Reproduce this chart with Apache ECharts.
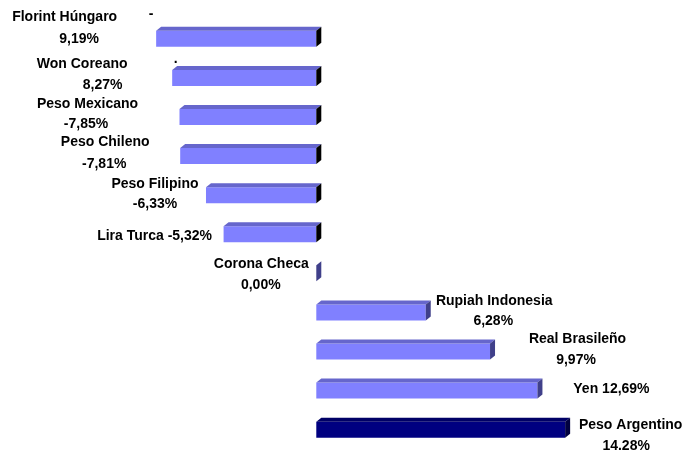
<!DOCTYPE html>
<html>
<head>
<meta charset="utf-8">
<script src="https://cdn.jsdelivr.net/npm/echarts@6/dist/echarts.min.js"></script>
<style>html,body{margin:0;padding:0;background:#fff;}#c{width:688px;height:451px;}</style>
</head>
<body>
<div id="c"></div>
<script>
// ---- data ----
const categories = ['Florint Húngaro', 'Won Coreano', 'Peso Mexicano', 'Peso Chileno', 'Peso Filipino', 'Lira Turca', 'Corona Checa', 'Rupiah Indonesia', 'Real Brasileño', 'Yen', 'Peso Argentino'];
const values = [-9.19, -8.27, -7.85, -7.81, -6.33, -5.32, 0.00, 6.28, 9.97, 12.69, 14.28];
const valueLabels = ['9,19%', '8,27%', '-7,85%', '-7,81%', '-6,33%', '-5,32%', '0,00%', '6,28%', '9,97%', '12,69%', '14.28%'];
const extraMarks = ['-', '.', '', '', '', '', '', '', '', '', ''];
const highlight = 'Peso Argentino';

// ---- layout (label offsets relative to bar end / row centre) ----
const labelLayout = [
  [-91.5, -21.3, -77, 0.7],
  [-90, -13.4, -69.5, 7.6],
  [-92, -13, -93.5, 7],
  [-75, -14.1, -76, 7.9],
  [-51, -11.2, -51, 8.8],
  [-69, 1.7, null, null],
  [-55, -9.3, -55.5, 11.7],
  [68.5, -11.4, 67.5, 8.6],
  [87.5, -12.5, 86, 8.5],
  [74, -1.6, null, null],
  [65.5, -4.7, 61, 16.3]
];
const extraLayout = [[-5, -25], [3.5, -19]];

const FONT = 'bold 14px "Liberation Sans", Arial, sans-serif';
const chart = echarts.init(document.getElementById('c'));

function renderItem(params, api) {
  const idx = api.value(1);
  const val = api.value(0);
  const p0 = api.coord([0, idx]);
  const p1 = api.coord([val, idx]);
  const h = 16, dx = 5, dy = 4;
  const xl = Math.min(p0[0], p1[0]);
  const xr = Math.max(p0[0], p1[0]);
  const yc = p0[1];
  const yt = yc - h / 2, yb = yc + h / 2;
  const isHi = categories[idx] === highlight;
  const front = isHi ? '#000080' : '#8080FF';
  const top = isHi ? '#000066' : '#6666CC';
  const side = isHi ? '#00003F' : (val < 0 ? '#000000' : '#40408A');
  const children = [];
  if (xr - xl > 0) {
    children.push({ type: 'rect', shape: { x: xl, y: yt, width: xr - xl, height: h }, style: { fill: front } });
    children.push({ type: 'polygon', shape: { points: [[xl, yt], [xl + dx, yt - dy], [xr + dx, yt - dy], [xr, yt]] }, style: { fill: top } });
  }
  children.push({ type: 'polygon', shape: { points: [[xr, yt], [xr + dx, yt - dy], [xr + dx, yb - dy], [xr, yb]] }, style: { fill: side } });

  const L = labelLayout[idx];
  const ex = p1[0];
  if (L[2] === null) {
    children.push({ type: 'text', style: { text: categories[idx] + ' ' + valueLabels[idx], x: ex + L[0], y: yc + L[1], align: 'center', verticalAlign: 'middle', font: FONT, fill: '#000' } });
  } else {
    children.push({ type: 'text', style: { text: categories[idx], x: ex + L[0], y: yc + L[1], align: 'center', verticalAlign: 'middle', font: FONT, fill: '#000' } });
    children.push({ type: 'text', style: { text: valueLabels[idx], x: ex + L[2], y: yc + L[3], align: 'center', verticalAlign: 'middle', font: FONT, fill: '#000' } });
  }
  if (extraMarks[idx]) {
    const E = extraLayout[idx];
    children.push({ type: 'text', style: { text: extraMarks[idx], x: ex + E[0], y: yc + E[1], align: 'center', verticalAlign: 'middle', font: FONT, fill: '#000' } });
  }
  return { type: 'group', children };
}

chart.setOption({
  backgroundColor: '#fff',
  animation: false,
  grid: { left: 0, right: 0, top: 19.25, bottom: 1.75 },
  xAxis: { type: 'value', min: -18.15, max: 21.33, show: false, splitLine: { show: false } },
  yAxis: { type: 'category', data: categories, inverse: true, show: false },
  series: [{
    type: 'custom',
    renderItem: renderItem,
    clip: false,
    encode: { x: 0, y: 1 },
    data: values.map((v, i) => [v, i])
  }]
});
</script>
</body>
</html>
